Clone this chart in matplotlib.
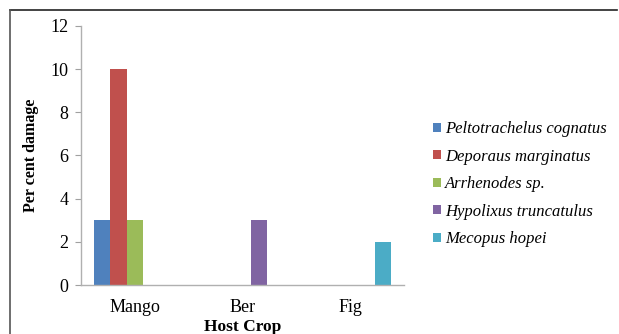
import numpy as np
import matplotlib.pyplot as plt
from matplotlib.lines import Line2D
from matplotlib.patches import Patch

plt.rcParams['font.family'] = ['Liberation Serif', 'DejaVu Serif']

crops = ['Mango', 'Ber', 'Fig']
species = ['Peltotrachelus cognatus', 'Deporaus marginatus', 'Arrhenodes sp.',
           'Hypolixus truncatulus', 'Mecopus hopei']
peltotrachelus = [3, 0, 0]
deporaus = [10, 0, 0]
arrhenodes = [3, 0, 0]
hypolixus = [0, 3, 0]
mecopus = [0, 0, 2]
colors = ['#4F81BD', '#C0504D', '#9BBB59', '#8064A2', '#4BACC6']

series = [peltotrachelus, deporaus, arrhenodes, hypolixus, mecopus]

fig = plt.figure(figsize=(6.19, 3.34), dpi=100)
ax = fig.add_axes([0.1309, 0.1467, 0.5218, 0.7755])

x = np.arange(len(crops))
w = 0.153
for i, (vals, c) in enumerate(zip(series, colors)):
    ax.bar(x + (i - 2) * w, vals, width=w, color=c)

ax.set_xlim(-0.5, 2.5)
ax.set_ylim(0, 12)
ax.set_yticks(range(0, 13, 2))
ax.set_xticks(x)
ax.set_xticklabels(crops)
ax.tick_params(axis='x', length=0, pad=10, labelsize=13)
ax.tick_params(axis='y', length=4, color='#a0a0a0', pad=5, labelsize=13)
for s in ['top', 'right']:
    ax.spines[s].set_visible(False)
for s in ['left', 'bottom']:
    ax.spines[s].set_color('#b0b0b0')
    ax.spines[s].set_linewidth(1.0)

ax.set_ylabel('Per cent damage', fontweight='bold', fontsize=11.5, labelpad=8)
ax.set_xlabel('Host Crop', fontweight='bold', fontsize=12.5, labelpad=2)

handles = [Patch(facecolor=c, label=s) for s, c in zip(species, colors)]
fig.legend(handles=handles, loc='upper left', bbox_to_anchor=(0.689, 0.657),
           frameon=False, prop={'style': 'italic', 'size': 12},
           handlelength=0.45, handleheight=0.45, handletextpad=0.25,
           labelspacing=0.69, borderaxespad=0)

# page frame around the figure
fig.add_artist(Line2D([10 / 619, 617 / 619], [1 - 10 / 334, 1 - 10 / 334],
                      transform=fig.transFigure, color='#222222', lw=1.2))
fig.add_artist(Line2D([10 / 619, 10 / 619], [0, 1 - 10 / 334],
                      transform=fig.transFigure, color='#555555', lw=1.2))

fig.savefig('out.png', dpi=100)
